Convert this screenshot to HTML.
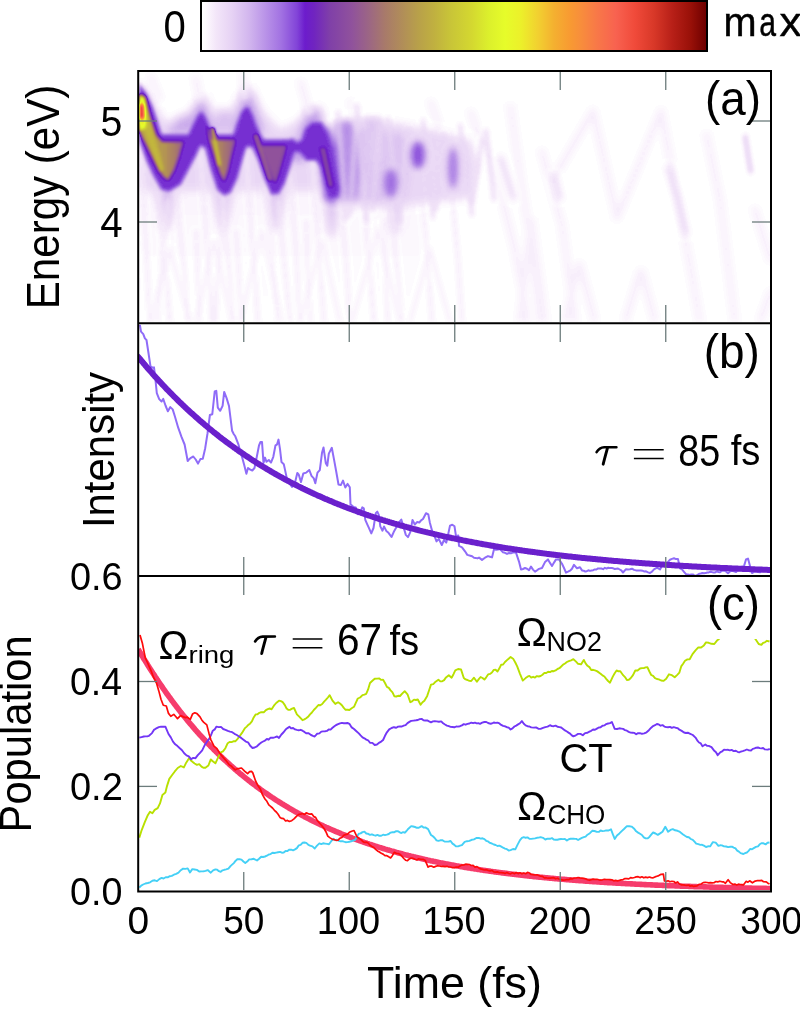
<!DOCTYPE html><html><head><meta charset="utf-8"><style>html,body{margin:0;padding:0;background:#fff;overflow:hidden}svg{display:block;will-change:transform} text{stroke:none} text.k{stroke:#000;stroke-width:0.45px}</style></head><body>
<svg width="800" height="1009" viewBox="0 0 800 1009" font-family="'Liberation Sans', sans-serif">
<defs>
<linearGradient id="cb" x1="202" y1="0" x2="706" y2="0" gradientUnits="userSpaceOnUse">
<stop offset="0.0000" stop-color="#ffffff"/>
<stop offset="0.0079" stop-color="#fdf9fe"/>
<stop offset="0.0278" stop-color="#f3e6f9"/>
<stop offset="0.0595" stop-color="#e6d2f4"/>
<stop offset="0.0933" stop-color="#d2b6ee"/>
<stop offset="0.1250" stop-color="#ba94e8"/>
<stop offset="0.1567" stop-color="#a272e2"/>
<stop offset="0.1885" stop-color="#8244d8"/>
<stop offset="0.2044" stop-color="#6c1ccc"/>
<stop offset="0.2222" stop-color="#7024c0"/>
<stop offset="0.2540" stop-color="#8040a8"/>
<stop offset="0.2976" stop-color="#90529c"/>
<stop offset="0.3313" stop-color="#9c6684"/>
<stop offset="0.3631" stop-color="#a87a6a"/>
<stop offset="0.3948" stop-color="#b08c5a"/>
<stop offset="0.4286" stop-color="#b8a04a"/>
<stop offset="0.4603" stop-color="#c0b040"/>
<stop offset="0.4921" stop-color="#c8c438"/>
<stop offset="0.5357" stop-color="#d4d830"/>
<stop offset="0.5694" stop-color="#dcf02c"/>
<stop offset="0.6012" stop-color="#e6fc2a"/>
<stop offset="0.6329" stop-color="#ecf02a"/>
<stop offset="0.6667" stop-color="#f2d030"/>
<stop offset="0.6984" stop-color="#f4b030"/>
<stop offset="0.7302" stop-color="#f89a32"/>
<stop offset="0.7480" stop-color="#f8903a"/>
<stop offset="0.7837" stop-color="#f87848"/>
<stop offset="0.8214" stop-color="#f86250"/>
<stop offset="0.8591" stop-color="#f04a3a"/>
<stop offset="0.8968" stop-color="#d83828"/>
<stop offset="0.9325" stop-color="#b82018"/>
<stop offset="0.9702" stop-color="#981008"/>
<stop offset="1.0000" stop-color="#6e0000"/>
</linearGradient>
<filter id="b1" x="-20%" y="-20%" width="140%" height="140%"><feGaussianBlur stdDeviation="1.2"/></filter>
<filter id="b2" x="-20%" y="-20%" width="140%" height="140%"><feGaussianBlur stdDeviation="2.2"/></filter>
<filter id="b4" x="-20%" y="-20%" width="140%" height="140%"><feGaussianBlur stdDeviation="4"/></filter>
<filter id="b15" x="-20%" y="-20%" width="140%" height="140%"><feGaussianBlur stdDeviation="1.6"/></filter>
<filter id="b3" x="-20%" y="-20%" width="140%" height="140%"><feGaussianBlur stdDeviation="3"/></filter>
<linearGradient id="lav" x1="0" y1="140" x2="0" y2="300" gradientUnits="userSpaceOnUse"><stop offset="0" stop-color="#c8a6f0"/><stop offset="0.35" stop-color="#e4d2f8"/><stop offset="1" stop-color="#fbf6fe"/></linearGradient>
<clipPath id="ca"><rect x="139" y="72" width="631" height="250"/></clipPath>
<clipPath id="cb2"><rect x="139" y="324" width="631" height="251"/></clipPath>
<clipPath id="cc"><rect x="139" y="577" width="631" height="313"/></clipPath>
<filter id="cmap" filterUnits="userSpaceOnUse" x="130" y="60" width="650" height="275" color-interpolation-filters="sRGB"><feGaussianBlur stdDeviation="1.0"/><feComponentTransfer><feFuncR type="table" tableValues="1.000 0.988 0.969 0.950 0.934 0.918 0.902 0.878 0.854 0.831 0.803 0.774 0.744 0.715 0.685 0.656 0.623 0.583 0.542 0.499 0.445 0.429 0.437 0.455 0.475 0.494 0.511 0.525 0.539 0.553 0.568 0.582 0.596 0.610 0.625 0.640 0.654 0.666 0.675 0.685 0.695 0.704 0.713 0.723 0.733 0.743 0.753 0.763 0.773 0.782 0.793 0.804 0.814 0.825 0.835 0.845 0.854 0.864 0.876 0.888 0.901 0.909 0.916 0.923 0.930 0.937 0.944 0.950 0.952 0.955 0.958 0.963 0.968 0.973 0.973 0.973 0.973 0.973 0.973 0.973 0.973 0.973 0.973 0.965 0.957 0.949 0.939 0.914 0.889 0.864 0.837 0.802 0.767 0.732 0.698 0.664 0.630 0.596 0.541 0.486 0.431"/><feFuncG type="table" tableValues="1.000 0.969 0.932 0.897 0.873 0.848 0.824 0.790 0.757 0.724 0.685 0.643 0.601 0.560 0.518 0.476 0.430 0.371 0.313 0.247 0.149 0.120 0.138 0.169 0.203 0.237 0.261 0.277 0.293 0.309 0.326 0.350 0.374 0.398 0.422 0.447 0.471 0.494 0.516 0.538 0.561 0.584 0.607 0.629 0.650 0.670 0.690 0.715 0.739 0.764 0.783 0.801 0.819 0.836 0.858 0.887 0.916 0.943 0.957 0.972 0.987 0.975 0.960 0.946 0.915 0.878 0.842 0.804 0.763 0.723 0.685 0.658 0.631 0.604 0.582 0.559 0.533 0.507 0.481 0.457 0.433 0.410 0.387 0.362 0.337 0.312 0.288 0.270 0.251 0.233 0.212 0.186 0.159 0.133 0.114 0.097 0.080 0.063 0.042 0.021 0.000"/><feFuncB type="table" tableValues="1.000 0.994 0.984 0.975 0.969 0.963 0.957 0.950 0.943 0.935 0.928 0.921 0.913 0.906 0.899 0.891 0.882 0.870 0.857 0.841 0.812 0.784 0.758 0.729 0.700 0.671 0.652 0.642 0.631 0.620 0.606 0.578 0.549 0.520 0.489 0.457 0.425 0.402 0.382 0.363 0.344 0.325 0.307 0.289 0.276 0.264 0.251 0.241 0.231 0.222 0.214 0.207 0.200 0.193 0.186 0.182 0.177 0.172 0.170 0.167 0.165 0.165 0.165 0.165 0.170 0.176 0.183 0.188 0.188 0.188 0.189 0.191 0.194 0.196 0.214 0.231 0.246 0.261 0.276 0.287 0.296 0.304 0.313 0.293 0.271 0.248 0.226 0.207 0.188 0.170 0.152 0.134 0.117 0.099 0.082 0.065 0.048 0.031 0.021 0.010 0.000"/><feFuncA type="identity"/></feComponentTransfer></filter><filter id="hb1" filterUnits="userSpaceOnUse" x="120" y="50" width="680" height="300" color-interpolation-filters="sRGB"><feGaussianBlur stdDeviation="1.2"/></filter><filter id="hb18" filterUnits="userSpaceOnUse" x="120" y="50" width="680" height="300" color-interpolation-filters="sRGB"><feGaussianBlur stdDeviation="1.8"/></filter><filter id="hb2" filterUnits="userSpaceOnUse" x="120" y="50" width="680" height="300" color-interpolation-filters="sRGB"><feGaussianBlur stdDeviation="2.2"/></filter><filter id="hb3" filterUnits="userSpaceOnUse" x="120" y="50" width="680" height="300" color-interpolation-filters="sRGB"><feGaussianBlur stdDeviation="3"/></filter><filter id="hb4" filterUnits="userSpaceOnUse" x="120" y="50" width="680" height="300" color-interpolation-filters="sRGB"><feGaussianBlur stdDeviation="4"/></filter><linearGradient id="wash" x1="0" y1="150" x2="0" y2="322" gradientUnits="userSpaceOnUse"><stop offset="0" stop-color="rgb(7,7,7)"/><stop offset="0.3" stop-color="rgb(3,3,3)"/><stop offset="1" stop-color="rgb(0,0,0)"/></linearGradient><linearGradient id="v1g" x1="145" y1="0" x2="188" y2="0" gradientUnits="userSpaceOnUse"><stop offset="0" stop-color="rgb(112,112,112)"/><stop offset="0.45" stop-color="rgb(105,105,105)"/><stop offset="1" stop-color="rgb(79,79,79)"/></linearGradient><linearGradient id="v2g" x1="212" y1="0" x2="236" y2="0" gradientUnits="userSpaceOnUse"><stop offset="0" stop-color="rgb(105,105,105)"/><stop offset="1" stop-color="rgb(79,79,79)"/></linearGradient>
</defs>
<rect x="201" y="1" width="506" height="50" fill="url(#cb)" stroke="#000" stroke-width="2"/>
<g clip-path="url(#ca)"><g filter="url(#cmap)">
<rect x="120" y="50" width="680" height="300" fill="#000"/>
<g filter="url(#hb4)">
<polygon fill="url(#wash)" points="139.0,150.0 160.0,190.0 200.0,160.0 225.0,190.0 250.0,160.0 278.0,190.0 310.0,160.0 335.0,195.0 360.0,190.0 400.0,195.0 420.0,200.0 430.0,322.0 139.0,322.0"/>
<polygon fill="rgb(13,13,13)" points="139.0,78.0 152.0,95.0 162.0,118.0 175.0,125.0 190.0,112.0 198.0,95.0 206.0,95.0 214.0,115.0 226.0,122.0 236.0,102.0 244.0,82.0 252.0,88.0 262.0,110.0 280.0,130.0 300.0,120.0 312.0,112.0 322.0,120.0 338.0,140.0 360.0,130.0 400.0,135.0 440.0,145.0 470.0,160.0 470.0,190.0 139.0,190.0"/>
<polygon fill="rgb(31,31,31)" points="188.0,134.0 197.0,102.0 205.0,102.0 214.0,134.0"/>
<polygon fill="rgb(31,31,31)" points="233.0,134.0 242.0,94.0 252.0,94.0 264.0,134.0"/>
<polygon fill="rgb(31,31,31)" points="298.0,138.0 306.0,108.0 320.0,108.0 328.0,140.0"/>
<polygon fill="rgb(31,31,31)" points="288.0,140.0 308.0,140.0 306.0,162.0 292.0,162.0"/>
<polygon fill="rgb(26,26,26)" points="166.0,134.0 176.0,118.0 194.0,112.0 196.0,134.0"/>
<polygon fill="rgb(20,20,20)" points="212.0,132.0 216.0,110.0 232.0,110.0 236.0,132.0"/>
<polygon fill="rgb(20,20,20)" points="154.0,186.0 178.0,186.0 168.0,230.0 164.0,230.0"/>
<polygon fill="rgb(20,20,20)" points="213.0,186.0 233.0,186.0 225.0,230.0 221.0,230.0"/>
<polygon fill="rgb(20,20,20)" points="266.0,186.0 286.0,186.0 278.0,230.0 274.0,230.0"/>
<polygon fill="rgb(20,20,20)" points="323.0,192.0 341.0,192.0 334.0,236.0 330.0,236.0"/>
<polygon fill="rgb(20,20,20)" points="387.0,190.0 403.0,190.0 397.0,234.0 393.0,234.0"/>
</g>
<g stroke="rgb(7,7,7)" stroke-width="3.5" fill="none" filter="url(#hb2)">
<polyline points="141.0,150.0 145.0,230.0 150.0,322.0"/>
<polyline points="158.0,190.0 164.0,250.0 170.0,322.0"/>
<polyline points="176.0,190.0 183.0,260.0 188.0,322.0"/>
<polyline points="200.0,150.0 206.0,230.0 212.0,322.0"/>
<polyline points="222.0,190.0 228.0,260.0 233.0,322.0"/>
<polyline points="246.0,150.0 252.0,240.0 258.0,322.0"/>
<polyline points="266.0,185.0 272.0,260.0 278.0,322.0"/>
<polyline points="290.0,175.0 296.0,250.0 300.0,322.0"/>
<polyline points="312.0,150.0 318.0,240.0 324.0,322.0"/>
<polyline points="340.0,195.0 346.0,260.0 350.0,322.0"/>
<polyline points="362.0,175.0 368.0,250.0 374.0,322.0"/>
<polyline points="390.0,195.0 396.0,260.0 402.0,322.0"/>
<polyline points="420.0,175.0 426.0,240.0 432.0,322.0"/>
<polyline points="452.0,195.0 458.0,260.0 462.0,322.0"/>
<polyline points="168.0,200.0 162.0,260.0 157.0,322.0"/>
<polyline points="224.0,200.0 219.0,260.0 215.0,322.0"/>
<polyline points="278.0,200.0 285.0,270.0 290.0,322.0"/>
<polyline points="196.0,230.0 200.0,322.0"/>
<polyline points="236.0,230.0 242.0,322.0"/>
<polyline points="306.0,220.0 310.0,322.0"/>
<polyline points="384.0,220.0 388.0,322.0"/>
</g>
<g stroke="rgb(5,5,5)" stroke-width="3.5" fill="none" filter="url(#hb2)">
<polyline points="150.0,322.0 170.0,250.0 190.0,322.0"/>
<polyline points="196.0,322.0 214.0,240.0 232.0,322.0"/>
<polyline points="240.0,322.0 262.0,230.0 282.0,322.0"/>
<polyline points="300.0,322.0 322.0,240.0 340.0,322.0"/>
<polyline points="352.0,322.0 378.0,230.0 400.0,322.0"/>
<polyline points="410.0,322.0 430.0,250.0 450.0,322.0"/>
</g>
<g stroke="rgb(5,5,5)" stroke-width="7" fill="none" stroke-linejoin="round" filter="url(#hb3)">
<polyline points="480.0,130.0 500.0,190.0 515.0,250.0 528.0,322.0"/>
<polyline points="510.0,104.0 521.0,183.0 532.0,250.0 540.0,322.0"/>
<polyline points="541.0,149.0 562.0,225.0 575.0,322.0"/>
<polyline points="551.0,183.0 593.0,111.0 617.0,218.0 661.0,111.0 692.0,276.0 700.0,322.0"/>
<polyline points="531.0,218.0 520.0,322.0"/>
<polyline points="531.0,218.0 545.0,322.0"/>
<polyline points="579.0,262.0 565.0,322.0"/>
<polyline points="579.0,262.0 595.0,322.0"/>
<polyline points="641.0,269.0 625.0,322.0"/>
<polyline points="641.0,269.0 655.0,322.0"/>
<polyline points="706.0,132.0 720.0,200.0 735.0,322.0"/>
<polyline points="754.0,207.0 771.0,262.0"/>
<polyline points="760.0,322.0 771.0,290.0"/>
<polyline points="150.0,75.0 160.0,100.0"/>
<polyline points="195.0,75.0 200.0,100.0"/>
<polyline points="243.0,72.0 245.0,100.0"/>
<polyline points="300.0,80.0 310.0,115.0"/>
<polyline points="350.0,100.0 360.0,130.0"/>
<polyline points="430.0,100.0 440.0,130.0"/>
<polyline points="470.0,110.0 480.0,140.0"/>
</g>
<g stroke="rgb(13,13,13)" stroke-width="5" fill="none" filter="url(#hb3)">
<polyline points="668.0,166.0 678.0,200.0 686.0,235.0"/>
<polyline points="500.0,156.0 507.0,178.0 514.0,200.0"/>
<polyline points="554.0,175.0 560.0,200.0"/>
</g>
<g stroke="rgb(23,23,23)" stroke-width="3" fill="none" filter="url(#hb2)">
<polyline points="745.0,135.0 748.0,155.0 751.0,173.0"/>
</g>
<g filter="url(#hb4)">
<polygon fill="rgb(13,13,13)" points="336.0,122.0 360.0,118.0 400.0,124.0 440.0,132.0 470.0,140.0 478.0,165.0 470.0,198.0 430.0,202.0 400.0,206.0 360.0,206.0 340.0,204.0"/>
<polygon fill="rgb(20,20,20)" points="338.0,128.0 370.0,126.0 405.0,135.0 410.0,170.0 405.0,200.0 370.0,204.0 345.0,202.0"/>
</g>
<g filter="url(#hb3)">
<polygon fill="rgb(33,33,33)" points="334.0,122.0 350.0,120.0 360.0,134.0 362.0,175.0 356.0,200.0 340.0,202.0"/>
<polygon fill="rgb(46,46,46)" points="316.0,128.0 328.0,126.0 338.0,150.0 342.0,190.0 334.0,204.0 324.0,200.0"/>
<polygon fill="rgb(18,18,18)" points="364.0,118.0 382.0,118.0 384.0,162.0 366.0,162.0"/>
</g>
<g stroke="rgb(14,14,14)" stroke-width="3" fill="none" stroke-linecap="round" filter="url(#hb2)">
<polyline points="338.0,112.0 342.0,166.0 346.0,220.0"/>
<polyline points="356.0,120.0 353.0,167.5 350.0,215.0"/>
<polyline points="357.0,105.0 362.0,163.5 367.0,222.0"/>
<polyline points="380.0,125.0 376.0,167.5 372.0,210.0"/>
<polyline points="388.0,118.0 394.0,170.0 400.0,222.0"/>
<polyline points="409.0,130.0 404.0,167.5 399.0,205.0"/>
<polyline points="423.0,120.0 428.0,169.0 433.0,218.0"/>
<polyline points="444.0,135.0 440.0,172.5 436.0,210.0"/>
<polyline points="460.0,125.0 466.0,170.0 472.0,215.0"/>
<polyline points="482.0,140.0 477.0,172.5 472.0,205.0"/>
<polyline points="486.0,130.0 490.0,165.0 494.0,200.0"/>
</g>
<g filter="url(#hb3)">
<ellipse fill="rgb(41,41,41)" cx="391" cy="183" rx="7" ry="14"/>
<ellipse fill="rgb(46,46,46)" cx="418" cy="155" rx="7.5" ry="14"/>
<ellipse fill="rgb(38,38,38)" cx="453" cy="168" rx="5.5" ry="21"/>
</g>
<g filter="url(#hb18)">
<polygon fill="rgb(50,50,50)" points="139.0,83.0 147.0,93.0 153.0,106.0 158.0,121.0 162.0,134.0 188.0,134.0 192.0,126.0 197.0,116.0 200.0,112.0 203.0,112.0 207.0,119.0 210.0,127.0 214.0,134.0 233.0,134.0 237.0,122.0 241.0,112.0 245.0,107.0 249.0,107.0 253.0,115.0 257.0,126.0 261.0,134.0 264.0,139.0 289.0,139.0 293.0,138.0 297.0,142.0 301.0,140.0 305.0,128.0 312.0,122.0 322.0,122.0 328.0,135.0 332.0,150.0 336.0,170.0 339.0,188.0 338.0,197.0 330.0,198.0 325.0,186.0 320.0,167.0 316.0,161.0 306.0,161.0 300.0,153.0 295.0,152.0 291.0,166.0 285.0,184.0 279.0,194.0 271.0,195.0 264.0,179.0 257.0,159.0 252.0,148.0 247.0,147.0 243.0,160.0 238.0,178.0 231.0,193.0 224.0,196.0 217.0,190.0 210.0,169.0 205.0,149.0 201.0,146.0 197.0,155.0 189.0,170.0 181.0,185.0 169.0,192.0 161.0,190.0 153.0,176.0 146.0,161.0 141.0,147.0 139.0,141.0"/>
</g>
<g filter="url(#hb1)">
<polygon fill="url(#v1g)" points="139.0,98.0 145.0,102.0 150.0,118.0 156.0,135.0 162.0,142.0 183.0,142.0 179.0,156.0 174.0,170.0 168.0,180.0 163.0,176.0 156.0,164.0 149.0,150.0 142.0,136.0 139.0,130.0"/>
<polygon fill="url(#v2g)" points="207.0,125.0 212.0,140.0 235.0,140.0 231.0,156.0 228.0,170.0 224.0,181.0 220.0,173.0 215.0,157.0 210.0,141.0"/>
<polygon fill="rgb(76,76,76)" points="253.0,133.0 260.0,146.0 286.0,146.0 282.0,161.0 278.0,175.0 275.0,183.0 270.0,172.0 263.0,154.0"/>
<polygon fill="rgb(69,69,69)" points="320.0,148.0 325.0,148.0 333.0,186.0 329.0,187.0"/>
</g>
<g filter="url(#hb1)">
<polygon fill="rgb(120,120,120)" points="139.0,94.0 145.0,97.0 149.0,115.0 154.0,134.0 160.0,154.0 164.0,170.0 160.0,172.0 153.0,155.0 146.0,136.0 141.0,120.0 139.0,114.0"/>
<polygon fill="rgb(153,153,153)" points="139.0,95.0 145.0,98.0 146.0,128.0 139.0,131.0"/>
<polygon fill="rgb(163,163,163)" points="139.0,100.0 145.0,102.0 146.0,124.0 139.0,126.0"/>
<polygon fill="rgb(230,230,230)" points="139.0,104.0 143.5,105.0 144.0,118.0 139.0,119.0"/>
<polygon fill="rgb(128,128,128)" points="211.0,128.0 214.0,128.0 221.0,165.0 218.0,166.0"/>
<polygon fill="rgb(92,92,92)" points="254.0,135.0 257.0,135.0 272.0,180.0 269.0,180.0"/>
</g>
</g></g>
<g clip-path="url(#cb2)">
<polyline points="139.9,324.8 141.0,331.6 143.3,334.1 144.9,338.4 146.5,340.0 148.1,350.5 150.5,366.3 152.9,367.8 154.0,367.3 155.2,377.1 156.8,393.1 159.2,399.1 161.6,401.5 163.2,398.9 165.5,405.5 167.9,411.3 170.3,407.1 172.7,409.4 175.0,416.8 178.2,427.7 179.8,432.2 181.4,436.7 184.6,444.5 187.7,461.0 189.3,459.2 190.9,457.8 193.3,456.5 195.7,459.5 198.0,463.6 200.4,459.1 202.8,458.8 205.2,448.2 207.5,433.5 209.9,415.0 212.3,414.2 214.7,391.5 216.3,390.9 217.8,407.6 220.2,410.8 222.6,405.9 224.2,391.9 226.6,398.1 229.0,406.0 232.1,430.8 233.7,434.0 235.3,436.3 238.5,444.7 240.4,451.9 242.4,458.2 244.4,465.8 246.4,473.8 248.0,468.0 250.3,469.6 252.3,470.5 254.5,468.0 256.8,456.8 259.0,445.5 260.5,441.9 262.0,441.9 263.5,463.1 265.0,457.6 266.5,461.8 268.8,460.0 271.0,462.6 273.3,456.8 275.5,445.3 277.0,444.5 278.5,439.6 280.0,449.2 281.5,462.1 283.8,464.2 285.3,471.1 286.8,478.3 289.0,482.5 292.0,487.0 295.0,482.7 297.3,472.9 298.8,474.7 301.0,482.1 303.3,473.5 306.3,472.6 309.3,470.0 311.5,475.9 313.8,478.4 315.3,483.3 317.5,472.6 319.8,470.1 322.0,452.8 323.5,447.4 325.8,463.2 327.3,465.7 328.8,453.6 331.8,447.8 334.0,459.4 336.3,472.0 338.5,484.5 340.8,485.1 343.0,480.6 345.3,487.5 347.5,483.9 349.8,487.3 350.5,504.3 353.5,507.1 355.8,507.5 358.0,514.2 360.0,512.9 362.3,507.4 363.8,508.3 365.3,519.8 367.5,524.8 369.0,528.2 371.3,533.4 373.5,528.0 375.8,513.1 377.3,511.6 378.8,514.8 380.3,526.4 382.5,530.7 384.0,526.5 386.3,530.9 388.5,532.8 391.5,537.0 393.8,531.8 396.8,526.5 399.0,522.3 401.3,519.6 403.5,526.9 405.8,534.9 408.0,537.1 410.3,532.1 412.5,519.9 414.8,524.5 417.0,522.1 419.3,522.5 421.1,520.3 423.0,519.0 426.0,513.2 428.3,514.4 429.8,522.4 432.0,530.5 434.3,535.5 436.5,541.4 438.8,538.9 441.8,545.0 444.0,540.0 446.3,542.6 448.5,532.7 450.0,525.6 452.3,524.7 454.5,526.3 456.0,536.1 458.3,535.5 459.0,545.9 462.0,547.3 465.0,551.3 467.3,554.9 470.3,555.7 472.1,556.3 474.0,557.7 475.7,557.9 477.3,558.4 479.0,557.6 482.0,559.9 485.0,557.7 488.0,556.1 490.0,556.7 492.0,557.4 494.0,549.3 496.0,549.7 498.0,549.4 500.0,549.0 503.0,552.3 505.0,552.8 507.0,553.9 509.0,553.0 511.0,553.3 512.7,552.6 514.3,552.4 516.0,552.6 519.0,561.6 521.0,569.6 523.0,569.0 525.0,568.0 527.0,568.7 529.0,570.2 531.0,566.6 533.0,569.6 535.0,571.6 537.0,570.3 539.0,568.9 542.0,568.0 545.0,562.1 548.0,559.4 550.0,562.9 552.0,566.0 554.0,562.6 556.0,559.4 559.0,559.4 562.0,563.8 564.0,568.0 566.0,572.6 568.0,571.7 570.0,570.7 572.0,568.7 574.0,564.8 577.0,568.3 580.0,567.3 582.0,570.4 583.6,570.7 585.2,571.5 586.8,571.2 588.4,570.3 590.0,570.9 591.6,570.5 593.2,570.2 594.8,569.4 596.4,569.5 598.0,568.4 599.7,568.6 601.4,568.5 603.1,569.2 604.9,567.8 606.6,568.6 608.3,567.7 610.0,568.1 611.6,568.0 613.2,568.3 614.8,569.0 616.4,568.7 618.0,568.5 619.7,569.5 621.3,570.4 623.0,572.5 626.0,569.2 628.0,569.6 630.0,569.3 632.0,568.7 634.0,569.9 636.0,570.4 637.6,570.5 639.2,570.4 640.8,570.4 642.4,570.7 644.0,571.4 646.0,571.3 648.0,572.4 650.0,573.0 652.0,571.6 654.0,569.4 657.0,567.6 660.0,569.5 663.0,563.7 666.0,563.6 668.0,562.0 670.0,559.7 672.0,558.9 674.0,558.3 676.0,559.1 678.0,559.1 680.0,568.4 682.0,569.4 684.0,571.8 686.0,574.2 688.0,574.5 689.6,574.9 691.2,574.4 692.8,574.4 694.4,575.6 696.0,575.7 697.6,574.8 699.2,573.7 700.8,573.5 702.4,573.0 704.0,573.2 705.6,573.1 707.2,572.5 708.8,572.4 710.4,571.7 712.0,572.1 713.6,572.6 715.2,572.4 716.8,571.4 718.4,572.0 720.0,572.3 722.0,570.7 724.0,570.6 726.0,571.4 728.0,573.3 730.0,571.4 732.0,570.7 734.0,571.4 736.0,572.1 738.0,570.0 740.0,568.9 742.0,566.8 744.0,566.1 746.0,559.5 748.0,558.6 750.0,566.0 752.0,573.0 754.0,571.9 756.0,571.3 758.0,572.1 760.0,572.3 762.0,571.0 764.0,570.6 765.8,570.4 767.7,571.7 769.5,572.0" fill="none" stroke="#8f6cf8" stroke-width="2" stroke-linejoin="round"/>
<polyline points="138.2,356.9 139.3,358.2 140.4,359.5 141.4,360.8 142.5,362.0 143.5,363.3 144.6,364.5 145.6,365.8 146.7,367.0 147.7,368.2 148.8,369.4 149.9,370.6 150.9,371.8 152.0,373.0 153.0,374.2 154.1,375.4 155.1,376.6 156.2,377.7 157.2,378.9 158.3,380.1 159.3,381.2 160.4,382.3 161.5,383.5 162.5,384.6 163.6,385.7 164.6,386.8 165.7,388.0 166.7,389.1 167.8,390.2 168.8,391.2 169.9,392.3 171.0,393.4 172.0,394.5 173.1,395.5 174.1,396.6 175.2,397.6 176.2,398.7 177.3,399.7 178.3,400.8 179.4,401.8 180.4,402.8 181.5,403.8 182.6,404.8 183.6,405.8 184.7,406.8 185.7,407.8 186.8,408.8 187.8,409.8 188.9,410.8 189.9,411.7 191.0,412.7 192.1,413.6 193.1,414.6 194.2,415.5 195.2,416.5 196.3,417.4 197.3,418.3 198.4,419.3 199.4,420.2 200.5,421.1 201.6,422.0 202.6,422.9 203.7,423.8 204.7,424.7 205.8,425.6 206.8,426.5 207.9,427.3 208.9,428.2 210.0,429.1 211.0,429.9 212.1,430.8 213.2,431.7 214.2,432.5 215.3,433.3 216.3,434.2 217.4,435.0 218.4,435.8 219.5,436.7 220.5,437.5 221.6,438.3 222.6,439.1 223.7,439.9 224.8,440.7 225.8,441.5 226.9,442.3 227.9,443.1 229.0,443.8 230.0,444.6 231.1,445.4 232.1,446.1 233.2,446.9 234.3,447.7 235.3,448.4 236.4,449.2 237.4,449.9 238.5,450.7 239.5,451.4 240.6,452.1 241.6,452.8 242.7,453.6 243.8,454.3 244.8,455.0 245.9,455.7 246.9,456.4 248.0,457.1 249.0,457.8 250.1,458.5 251.1,459.2 252.2,459.9 253.2,460.6 254.3,461.2 255.4,461.9 256.4,462.6 257.5,463.2 258.5,463.9 259.6,464.6 260.6,465.2 261.7,465.9 262.7,466.5 263.8,467.2 264.9,467.8 265.9,468.4 267.0,469.1 268.0,469.7 269.1,470.3 270.1,470.9 271.2,471.6 272.2,472.2 273.3,472.8 274.3,473.4 275.4,474.0 276.5,474.6 277.5,475.2 278.6,475.8 279.6,476.4 280.7,476.9 281.7,477.5 282.8,478.1 283.8,478.7 284.9,479.3 285.9,479.8 287.0,480.4 288.1,480.9 289.1,481.5 290.2,482.1 291.2,482.6 292.3,483.2 293.3,483.7 294.4,484.2 295.4,484.8 296.5,485.3 297.6,485.9 298.6,486.4 299.7,486.9 300.7,487.4 301.8,488.0 302.8,488.5 303.9,489.0 304.9,489.5 306.0,490.0 307.0,490.5 308.1,491.0 309.2,491.5 310.2,492.0 311.3,492.5 312.3,493.0 313.4,493.5 314.4,494.0 315.5,494.4 316.5,494.9 317.6,495.4 318.7,495.9 319.7,496.3 320.8,496.8 321.8,497.3 322.9,497.7 323.9,498.2 325.0,498.7 326.0,499.1 327.1,499.6 328.1,500.0 329.2,500.5 330.3,500.9 331.3,501.3 332.4,501.8 333.4,502.2 334.5,502.7 335.5,503.1 336.6,503.5 337.6,503.9 338.7,504.4 339.8,504.8 340.8,505.2 341.9,505.6 342.9,506.0 344.0,506.5 345.0,506.9 346.1,507.3 347.1,507.7 348.2,508.1 349.2,508.5 350.3,508.9 351.4,509.3 352.4,509.7 353.5,510.0 354.5,510.4 355.6,510.8 356.6,511.2 357.7,511.6 358.7,512.0 359.8,512.3 360.9,512.7 361.9,513.1 363.0,513.5 364.0,513.8 365.1,514.2 366.1,514.6 367.2,514.9 368.2,515.3 369.3,515.6 370.4,516.0 371.4,516.3 372.5,516.7 373.5,517.1 374.6,517.4 375.6,517.7 376.7,518.1 377.7,518.4 378.8,518.8 379.8,519.1 380.9,519.4 382.0,519.8 383.0,520.1 384.1,520.4 385.1,520.8 386.2,521.1 387.2,521.4 388.3,521.7 389.3,522.1 390.4,522.4 391.4,522.7 392.5,523.0 393.6,523.3 394.6,523.6 395.7,523.9 396.7,524.2 397.8,524.5 398.8,524.8 399.9,525.2 400.9,525.5 402.0,525.7 403.1,526.0 404.1,526.3 405.2,526.6 406.2,526.9 407.3,527.2 408.3,527.5 409.4,527.8 410.4,528.1 411.5,528.4 412.6,528.6 413.6,528.9 414.7,529.2 415.7,529.5 416.8,529.7 417.8,530.0 418.9,530.3 419.9,530.6 421.0,530.8 422.0,531.1 423.1,531.4 424.2,531.6 425.2,531.9 426.3,532.1 427.3,532.4 428.4,532.7 429.4,532.9 430.5,533.2 431.5,533.4 432.6,533.7 433.6,533.9 434.7,534.2 435.8,534.4 436.8,534.7 437.9,534.9 438.9,535.2 440.0,535.4 441.0,535.6 442.1,535.9 443.1,536.1 444.2,536.4 445.3,536.6 446.3,536.8 447.4,537.1 448.4,537.3 449.5,537.5 450.5,537.7 451.6,538.0 452.6,538.2 453.7,538.4 454.8,538.6 455.8,538.9 456.9,539.1 457.9,539.3 459.0,539.5 460.0,539.7 461.1,539.9 462.1,540.2 463.2,540.4 464.2,540.6 465.3,540.8 466.4,541.0 467.4,541.2 468.5,541.4 469.5,541.6 470.6,541.8 471.6,542.0 472.7,542.2 473.7,542.4 474.8,542.6 475.8,542.8 476.9,543.0 478.0,543.2 479.0,543.4 480.1,543.6 481.1,543.8 482.2,544.0 483.2,544.2 484.3,544.4 485.3,544.6 486.4,544.7 487.5,544.9 488.5,545.1 489.6,545.3 490.6,545.5 491.7,545.7 492.7,545.8 493.8,546.0 494.8,546.2 495.9,546.4 496.9,546.5 498.0,546.7 499.1,546.9 500.1,547.1 501.2,547.2 502.2,547.4 503.3,547.6 504.3,547.8 505.4,547.9 506.4,548.1 507.5,548.3 508.6,548.4 509.6,548.6 510.7,548.7 511.7,548.9 512.8,549.1 513.8,549.2 514.9,549.4 515.9,549.5 517.0,549.7 518.0,549.9 519.1,550.0 520.2,550.2 521.2,550.3 522.3,550.5 523.3,550.6 524.4,550.8 525.4,550.9 526.5,551.1 527.5,551.2 528.6,551.4 529.7,551.5 530.7,551.7 531.8,551.8 532.8,552.0 533.9,552.1 534.9,552.2 536.0,552.4 537.0,552.5 538.1,552.7 539.1,552.8 540.2,552.9 541.3,553.1 542.3,553.2 543.4,553.4 544.4,553.5 545.5,553.6 546.5,553.8 547.6,553.9 548.6,554.0 549.7,554.2 550.8,554.3 551.8,554.4 552.9,554.5 553.9,554.7 555.0,554.8 556.0,554.9 557.1,555.1 558.1,555.2 559.2,555.3 560.2,555.4 561.3,555.5 562.4,555.7 563.4,555.8 564.5,555.9 565.5,556.0 566.6,556.2 567.6,556.3 568.7,556.4 569.7,556.5 570.8,556.6 571.9,556.7 572.9,556.9 574.0,557.0 575.0,557.1 576.1,557.2 577.1,557.3 578.2,557.4 579.2,557.5 580.3,557.6 581.3,557.8 582.4,557.9 583.5,558.0 584.5,558.1 585.6,558.2 586.6,558.3 587.7,558.4 588.7,558.5 589.8,558.6 590.8,558.7 591.9,558.8 593.0,558.9 594.0,559.0 595.1,559.1 596.1,559.2 597.2,559.3 598.2,559.4 599.3,559.5 600.3,559.6 601.4,559.7 602.5,559.8 603.5,559.9 604.6,560.0 605.6,560.1 606.7,560.2 607.7,560.3 608.8,560.4 609.8,560.5 610.9,560.6 611.9,560.7 613.0,560.8 614.1,560.9 615.1,561.0 616.2,561.1 617.2,561.1 618.3,561.2 619.3,561.3 620.4,561.4 621.4,561.5 622.5,561.6 623.5,561.7 624.6,561.8 625.7,561.8 626.7,561.9 627.8,562.0 628.8,562.1 629.9,562.2 630.9,562.3 632.0,562.4 633.0,562.4 634.1,562.5 635.2,562.6 636.2,562.7 637.3,562.8 638.3,562.8 639.4,562.9 640.4,563.0 641.5,563.1 642.5,563.2 643.6,563.2 644.6,563.3 645.7,563.4 646.8,563.5 647.8,563.5 648.9,563.6 649.9,563.7 651.0,563.8 652.0,563.8 653.1,563.9 654.1,564.0 655.2,564.1 656.3,564.1 657.3,564.2 658.4,564.3 659.4,564.3 660.5,564.4 661.5,564.5 662.6,564.6 663.6,564.6 664.7,564.7 665.8,564.8 666.8,564.8 667.9,564.9 668.9,565.0 670.0,565.0 671.0,565.1 672.1,565.2 673.1,565.2 674.2,565.3 675.2,565.4 676.3,565.4 677.4,565.5 678.4,565.6 679.5,565.6 680.5,565.7 681.6,565.8 682.6,565.8 683.7,565.9 684.7,565.9 685.8,566.0 686.9,566.1 687.9,566.1 689.0,566.2 690.0,566.2 691.1,566.3 692.1,566.4 693.2,566.4 694.2,566.5 695.3,566.5 696.3,566.6 697.4,566.7 698.5,566.7 699.5,566.8 700.6,566.8 701.6,566.9 702.7,566.9 703.7,567.0 704.8,567.1 705.8,567.1 706.9,567.2 707.9,567.2 709.0,567.3 710.1,567.3 711.1,567.4 712.2,567.4 713.2,567.5 714.3,567.5 715.3,567.6 716.4,567.6 717.4,567.7 718.5,567.7 719.6,567.8 720.6,567.9 721.7,567.9 722.7,568.0 723.8,568.0 724.8,568.1 725.9,568.1 726.9,568.1 728.0,568.2 729.0,568.2 730.1,568.3 731.2,568.3 732.2,568.4 733.3,568.4 734.3,568.5 735.4,568.5 736.4,568.6 737.5,568.6 738.5,568.7 739.6,568.7 740.7,568.8 741.7,568.8 742.8,568.9 743.8,568.9 744.9,568.9 745.9,569.0 747.0,569.0 748.0,569.1 749.1,569.1 750.1,569.2 751.2,569.2 752.3,569.2 753.3,569.3 754.4,569.3 755.4,569.4 756.5,569.4 757.5,569.5 758.6,569.5 759.6,569.5 760.7,569.6 761.8,569.6 762.8,569.7 763.9,569.7 764.9,569.7 766.0,569.8 767.0,569.8 768.1,569.9 769.1,569.9 770.2,569.9 771.2,570.0" fill="none" stroke="#6a20cc" stroke-width="6" stroke-linecap="round"/>
</g>
<g clip-path="url(#cc)">
<polyline points="138.2,649.3 139.3,651.1 140.4,652.9 141.4,654.7 142.5,656.4 143.5,658.2 144.6,659.9 145.6,661.6 146.7,663.3 147.7,665.0 148.8,666.7 149.9,668.4 150.9,670.0 152.0,671.7 153.0,673.3 154.1,674.9 155.1,676.5 156.2,678.1 157.2,679.7 158.3,681.3 159.3,682.9 160.4,684.4 161.5,685.9 162.5,687.5 163.6,689.0 164.6,690.5 165.7,692.0 166.7,693.5 167.8,694.9 168.8,696.4 169.9,697.8 171.0,699.3 172.0,700.7 173.1,702.1 174.1,703.5 175.2,704.9 176.2,706.3 177.3,707.7 178.3,709.1 179.4,710.4 180.4,711.8 181.5,713.1 182.6,714.4 183.6,715.7 184.7,717.0 185.7,718.3 186.8,719.6 187.8,720.9 188.9,722.2 189.9,723.4 191.0,724.7 192.1,725.9 193.1,727.1 194.2,728.4 195.2,729.6 196.3,730.8 197.3,732.0 198.4,733.1 199.4,734.3 200.5,735.5 201.6,736.6 202.6,737.8 203.7,738.9 204.7,740.1 205.8,741.2 206.8,742.3 207.9,743.4 208.9,744.5 210.0,745.6 211.0,746.7 212.1,747.8 213.2,748.8 214.2,749.9 215.3,750.9 216.3,752.0 217.4,753.0 218.4,754.1 219.5,755.1 220.5,756.1 221.6,757.1 222.6,758.1 223.7,759.1 224.8,760.1 225.8,761.0 226.9,762.0 227.9,763.0 229.0,763.9 230.0,764.9 231.1,765.8 232.1,766.7 233.2,767.7 234.3,768.6 235.3,769.5 236.4,770.4 237.4,771.3 238.5,772.2 239.5,773.1 240.6,774.0 241.6,774.8 242.7,775.7 243.8,776.6 244.8,777.4 245.9,778.3 246.9,779.1 248.0,779.9 249.0,780.8 250.1,781.6 251.1,782.4 252.2,783.2 253.2,784.0 254.3,784.8 255.4,785.6 256.4,786.4 257.5,787.2 258.5,787.9 259.6,788.7 260.6,789.5 261.7,790.2 262.7,791.0 263.8,791.7 264.9,792.5 265.9,793.2 267.0,793.9 268.0,794.7 269.1,795.4 270.1,796.1 271.2,796.8 272.2,797.5 273.3,798.2 274.3,798.9 275.4,799.6 276.5,800.3 277.5,800.9 278.6,801.6 279.6,802.3 280.7,802.9 281.7,803.6 282.8,804.2 283.8,804.9 284.9,805.5 285.9,806.2 287.0,806.8 288.1,807.4 289.1,808.1 290.2,808.7 291.2,809.3 292.3,809.9 293.3,810.5 294.4,811.1 295.4,811.7 296.5,812.3 297.6,812.9 298.6,813.5 299.7,814.0 300.7,814.6 301.8,815.2 302.8,815.8 303.9,816.3 304.9,816.9 306.0,817.4 307.0,818.0 308.1,818.5 309.2,819.1 310.2,819.6 311.3,820.1 312.3,820.7 313.4,821.2 314.4,821.7 315.5,822.2 316.5,822.7 317.6,823.2 318.7,823.8 319.7,824.3 320.8,824.8 321.8,825.2 322.9,825.7 323.9,826.2 325.0,826.7 326.0,827.2 327.1,827.7 328.1,828.1 329.2,828.6 330.3,829.1 331.3,829.5 332.4,830.0 333.4,830.5 334.5,830.9 335.5,831.4 336.6,831.8 337.6,832.2 338.7,832.7 339.8,833.1 340.8,833.6 341.9,834.0 342.9,834.4 344.0,834.8 345.0,835.2 346.1,835.7 347.1,836.1 348.2,836.5 349.2,836.9 350.3,837.3 351.4,837.7 352.4,838.1 353.5,838.5 354.5,838.9 355.6,839.3 356.6,839.7 357.7,840.1 358.7,840.4 359.8,840.8 360.9,841.2 361.9,841.6 363.0,841.9 364.0,842.3 365.1,842.7 366.1,843.0 367.2,843.4 368.2,843.7 369.3,844.1 370.4,844.4 371.4,844.8 372.5,845.1 373.5,845.5 374.6,845.8 375.6,846.2 376.7,846.5 377.7,846.8 378.8,847.2 379.8,847.5 380.9,847.8 382.0,848.1 383.0,848.5 384.1,848.8 385.1,849.1 386.2,849.4 387.2,849.7 388.3,850.0 389.3,850.3 390.4,850.6 391.4,850.9 392.5,851.2 393.6,851.5 394.6,851.8 395.7,852.1 396.7,852.4 397.8,852.7 398.8,853.0 399.9,853.3 400.9,853.6 402.0,853.8 403.1,854.1 404.1,854.4 405.2,854.7 406.2,854.9 407.3,855.2 408.3,855.5 409.4,855.7 410.4,856.0 411.5,856.3 412.6,856.5 413.6,856.8 414.7,857.0 415.7,857.3 416.8,857.6 417.8,857.8 418.9,858.1 419.9,858.3 421.0,858.5 422.0,858.8 423.1,859.0 424.2,859.3 425.2,859.5 426.3,859.7 427.3,860.0 428.4,860.2 429.4,860.4 430.5,860.7 431.5,860.9 432.6,861.1 433.6,861.4 434.7,861.6 435.8,861.8 436.8,862.0 437.9,862.2 438.9,862.5 440.0,862.7 441.0,862.9 442.1,863.1 443.1,863.3 444.2,863.5 445.3,863.7 446.3,863.9 447.4,864.1 448.4,864.3 449.5,864.5 450.5,864.7 451.6,864.9 452.6,865.1 453.7,865.3 454.8,865.5 455.8,865.7 456.9,865.9 457.9,866.1 459.0,866.3 460.0,866.5 461.1,866.6 462.1,866.8 463.2,867.0 464.2,867.2 465.3,867.4 466.4,867.5 467.4,867.7 468.5,867.9 469.5,868.1 470.6,868.2 471.6,868.4 472.7,868.6 473.7,868.7 474.8,868.9 475.8,869.1 476.9,869.2 478.0,869.4 479.0,869.6 480.1,869.7 481.1,869.9 482.2,870.1 483.2,870.2 484.3,870.4 485.3,870.5 486.4,870.7 487.5,870.8 488.5,871.0 489.6,871.1 490.6,871.3 491.7,871.4 492.7,871.6 493.8,871.7 494.8,871.9 495.9,872.0 496.9,872.2 498.0,872.3 499.1,872.4 500.1,872.6 501.2,872.7 502.2,872.9 503.3,873.0 504.3,873.1 505.4,873.3 506.4,873.4 507.5,873.5 508.6,873.7 509.6,873.8 510.7,873.9 511.7,874.1 512.8,874.2 513.8,874.3 514.9,874.4 515.9,874.6 517.0,874.7 518.0,874.8 519.1,874.9 520.2,875.1 521.2,875.2 522.3,875.3 523.3,875.4 524.4,875.5 525.4,875.7 526.5,875.8 527.5,875.9 528.6,876.0 529.7,876.1 530.7,876.2 531.8,876.3 532.8,876.5 533.9,876.6 534.9,876.7 536.0,876.8 537.0,876.9 538.1,877.0 539.1,877.1 540.2,877.2 541.3,877.3 542.3,877.4 543.4,877.5 544.4,877.6 545.5,877.7 546.5,877.8 547.6,877.9 548.6,878.0 549.7,878.1 550.8,878.2 551.8,878.3 552.9,878.4 553.9,878.5 555.0,878.6 556.0,878.7 557.1,878.8 558.1,878.9 559.2,879.0 560.2,879.1 561.3,879.2 562.4,879.3 563.4,879.3 564.5,879.4 565.5,879.5 566.6,879.6 567.6,879.7 568.7,879.8 569.7,879.9 570.8,879.9 571.9,880.0 572.9,880.1 574.0,880.2 575.0,880.3 576.1,880.4 577.1,880.4 578.2,880.5 579.2,880.6 580.3,880.7 581.3,880.8 582.4,880.8 583.5,880.9 584.5,881.0 585.6,881.1 586.6,881.2 587.7,881.2 588.7,881.3 589.8,881.4 590.8,881.5 591.9,881.5 593.0,881.6 594.0,881.7 595.1,881.7 596.1,881.8 597.2,881.9 598.2,882.0 599.3,882.0 600.3,882.1 601.4,882.2 602.5,882.2 603.5,882.3 604.6,882.4 605.6,882.4 606.7,882.5 607.7,882.6 608.8,882.6 609.8,882.7 610.9,882.8 611.9,882.8 613.0,882.9 614.1,882.9 615.1,883.0 616.2,883.1 617.2,883.1 618.3,883.2 619.3,883.2 620.4,883.3 621.4,883.4 622.5,883.4 623.5,883.5 624.6,883.5 625.7,883.6 626.7,883.7 627.8,883.7 628.8,883.8 629.9,883.8 630.9,883.9 632.0,883.9 633.0,884.0 634.1,884.0 635.2,884.1 636.2,884.2 637.3,884.2 638.3,884.3 639.4,884.3 640.4,884.4 641.5,884.4 642.5,884.5 643.6,884.5 644.6,884.6 645.7,884.6 646.8,884.7 647.8,884.7 648.9,884.8 649.9,884.8 651.0,884.9 652.0,884.9 653.1,885.0 654.1,885.0 655.2,885.1 656.3,885.1 657.3,885.1 658.4,885.2 659.4,885.2 660.5,885.3 661.5,885.3 662.6,885.4 663.6,885.4 664.7,885.5 665.8,885.5 666.8,885.5 667.9,885.6 668.9,885.6 670.0,885.7 671.0,885.7 672.1,885.8 673.1,885.8 674.2,885.8 675.2,885.9 676.3,885.9 677.4,886.0 678.4,886.0 679.5,886.0 680.5,886.1 681.6,886.1 682.6,886.2 683.7,886.2 684.7,886.2 685.8,886.3 686.9,886.3 687.9,886.3 689.0,886.4 690.0,886.4 691.1,886.5 692.1,886.5 693.2,886.5 694.2,886.6 695.3,886.6 696.3,886.6 697.4,886.7 698.5,886.7 699.5,886.7 700.6,886.8 701.6,886.8 702.7,886.8 703.7,886.9 704.8,886.9 705.8,886.9 706.9,887.0 707.9,887.0 709.0,887.0 710.1,887.1 711.1,887.1 712.2,887.1 713.2,887.2 714.3,887.2 715.3,887.2 716.4,887.2 717.4,887.3 718.5,887.3 719.6,887.3 720.6,887.4 721.7,887.4 722.7,887.4 723.8,887.5 724.8,887.5 725.9,887.5 726.9,887.5 728.0,887.6 729.0,887.6 730.1,887.6 731.2,887.6 732.2,887.7 733.3,887.7 734.3,887.7 735.4,887.8 736.4,887.8 737.5,887.8 738.5,887.8 739.6,887.9 740.7,887.9 741.7,887.9 742.8,887.9 743.8,888.0 744.9,888.0 745.9,888.0 747.0,888.0 748.0,888.1 749.1,888.1 750.1,888.1 751.2,888.1 752.3,888.2 753.3,888.2 754.4,888.2 755.4,888.2 756.5,888.2 757.5,888.3 758.6,888.3 759.6,888.3 760.7,888.3 761.8,888.4 762.8,888.4 763.9,888.4 764.9,888.4 766.0,888.4 767.0,888.5 768.1,888.5 769.1,888.5 770.2,888.5 771.2,888.6" fill="none" stroke="#f63c6c" stroke-width="5.6"/>
<polyline points="139.3,887.5 141.2,885.6 143.1,884.5 145.4,883.5 147.8,883.0 150.1,882.3 152.4,880.8 154.7,880.3 157.0,881.1 159.3,879.1 161.6,877.9 163.6,878.5 165.7,877.3 167.7,877.3 169.8,876.2 171.8,875.9 173.9,874.7 176.2,873.8 178.5,872.6 180.8,870.2 183.1,868.6 185.4,868.9 187.7,868.4 190.0,872.5 192.3,869.1 194.6,869.5 196.9,869.9 199.2,871.5 201.5,871.4 203.6,871.2 205.6,870.9 207.7,870.1 210.8,872.7 213.1,870.4 215.4,869.4 217.2,869.7 218.9,871.2 220.7,871.9 222.5,870.3 224.3,869.8 226.1,869.4 228.4,868.6 230.7,865.9 233.8,863.1 235.7,860.7 237.6,859.1 239.6,859.3 241.5,859.6 243.4,861.5 245.3,863.0 247.2,861.6 249.2,859.4 251.5,859.3 253.8,858.8 257.0,860.5 259.1,858.7 261.2,856.7 263.1,857.0 265.0,856.5 266.9,855.7 268.8,854.5 270.6,854.1 272.5,852.7 274.4,853.0 276.3,852.6 278.1,852.2 280.0,851.9 281.9,852.7 283.7,852.6 285.6,851.0 287.5,851.1 289.4,849.6 291.2,849.7 293.1,850.3 295.0,849.4 296.9,848.1 298.8,845.4 300.6,844.9 302.5,842.8 304.4,842.5 306.3,842.9 308.1,844.6 310.0,845.7 312.4,846.4 314.7,848.5 317.0,845.6 319.4,843.4 321.3,844.1 323.1,843.3 325.0,843.6 327.0,843.9 329.0,844.2 331.2,841.2 333.4,838.8 335.3,840.2 337.1,839.7 339.0,840.9 340.6,841.3 342.3,841.1 344.0,841.7 345.6,842.2 347.5,842.1 349.4,841.7 351.2,841.3 353.1,840.5 355.0,840.0 356.9,836.6 358.8,833.7 360.6,833.4 362.5,832.1 364.4,831.6 366.3,833.5 368.1,833.8 370.0,834.8 371.9,834.3 373.7,835.2 375.6,835.7 377.5,834.9 379.4,835.8 381.2,835.8 383.1,834.7 385.0,835.2 386.9,834.7 388.8,834.0 390.6,832.6 392.5,832.2 394.4,832.2 396.2,831.2 398.1,831.3 399.8,832.4 401.4,833.0 403.1,832.2 404.7,832.7 406.5,831.0 408.4,828.7 411.2,826.1 413.1,826.5 415.0,827.0 416.9,827.8 418.8,827.8 421.6,826.1 423.5,827.6 425.3,827.4 428.1,829.1 431.0,835.0 432.9,836.3 434.7,838.0 436.5,840.3 438.4,840.9 440.3,840.3 442.2,840.2 444.5,841.5 446.9,841.6 448.8,841.5 450.6,841.0 452.5,843.6 454.4,844.9 456.2,846.4 458.1,846.4 460.0,845.7 461.9,845.2 464.7,841.8 467.0,841.2 469.4,840.9 471.7,839.8 474.0,839.4 476.4,838.0 478.8,837.9 480.6,838.6 482.5,838.3 484.4,839.1 486.2,840.8 488.1,841.4 490.0,842.9 491.9,843.5 493.8,844.5 495.6,845.0 497.5,846.0 499.4,845.6 501.3,846.6 503.1,847.7 505.0,848.6 506.9,849.2 508.7,850.6 510.6,850.1 513.0,849.0 515.3,849.4 517.6,844.6 520.0,840.1 521.9,837.9 523.8,837.2 525.6,837.8 527.5,837.4 529.4,838.7 531.3,838.9 533.1,838.6 535.0,838.4 536.9,837.8 538.7,837.6 540.6,837.1 543.0,837.8 545.3,839.5 547.6,838.6 550.0,838.8 551.9,838.1 553.7,839.6 555.6,839.7 557.4,839.7 559.2,839.3 561.0,839.0 563.0,839.1 564.9,839.0 566.9,840.6 568.8,839.2 570.6,838.8 572.5,838.6 574.4,838.8 576.2,838.9 578.1,840.0 580.0,838.9 581.9,837.9 583.8,837.2 585.6,836.6 587.5,834.7 589.9,833.2 592.2,830.8 594.5,831.0 596.9,831.9 598.8,831.9 600.6,830.5 602.5,831.1 604.4,830.9 606.2,830.4 608.6,830.5 611.0,829.3 612.9,834.4 614.7,838.9 617.0,835.4 619.4,833.4 621.7,831.1 624.0,829.0 626.9,826.1 629.2,826.2 631.6,826.6 633.9,828.4 636.2,831.3 638.1,832.6 640.0,833.8 641.9,835.0 643.8,837.4 645.6,838.4 647.5,838.4 649.4,836.9 651.2,834.6 653.1,832.5 655.5,833.5 657.8,834.9 660.1,833.4 662.5,831.7 665.3,826.8 668.1,831.7 670.5,829.9 672.8,829.1 675.1,830.3 677.5,830.8 679.4,831.6 681.2,833.0 683.1,834.5 685.0,835.8 686.9,837.0 688.8,837.3 690.8,839.0 692.8,839.9 694.5,841.7 696.2,843.7 698.3,844.2 700.4,844.9 702.1,844.8 703.9,845.6 706.0,847.0 708.0,846.3 710.1,846.4 712.9,842.1 715.7,842.6 718.4,845.9 720.1,845.3 721.9,845.4 724.0,846.4 726.1,846.5 728.2,847.1 730.2,846.7 732.0,846.7 733.7,847.6 735.5,848.4 737.2,850.6 738.9,851.6 740.6,853.1 743.4,854.0 745.1,853.1 746.9,852.5 748.6,850.9 750.3,848.9 752.0,849.3 753.8,848.1 755.9,846.9 758.0,846.4 759.7,844.3 761.4,843.3 763.5,843.3 765.6,844.4 767.5,842.8 769.5,842.5" fill="none" stroke="#44d0f6" stroke-width="1.9" stroke-linejoin="round"/>
<polyline points="139.3,837.6 141.6,830.3 144.7,822.4 147.8,815.2 150.0,811.7 152.4,813.2 154.7,809.9 157.7,808.2 160.0,803.4 162.4,794.9 165.4,792.6 167.0,786.1 169.3,778.9 172.3,774.8 174.6,771.7 177.7,768.0 180.8,766.0 183.9,767.4 186.2,762.7 189.2,758.1 191.5,761.1 194.6,763.5 196.9,764.8 199.2,764.1 201.5,766.6 203.4,767.8 205.4,767.8 208.4,765.5 210.8,759.4 213.1,761.5 215.4,763.3 218.4,756.9 220.7,752.4 223.0,751.4 225.4,748.2 227.7,743.2 229.6,742.0 231.5,742.1 233.4,741.3 235.3,741.3 237.2,739.4 239.0,737.0 242.0,732.9 245.0,728.1 246.7,726.6 248.3,724.9 250.0,723.7 251.9,721.4 253.7,717.4 255.6,714.4 257.5,714.2 259.4,712.8 261.2,712.2 264.0,712.2 265.9,710.1 267.8,709.1 269.7,708.5 271.6,709.3 273.9,705.7 276.2,703.0 279.0,700.7 280.9,701.2 282.8,702.2 284.7,704.9 286.6,708.5 288.5,709.9 290.3,709.7 292.1,708.7 294.0,708.0 296.9,714.4 299.7,717.1 302.5,720.2 304.4,719.4 306.2,718.3 308.1,716.8 310.0,714.4 311.9,712.5 313.8,710.0 316.1,707.7 318.4,705.0 320.3,705.3 322.2,704.0 324.1,701.6 326.0,699.7 327.9,697.5 329.7,695.2 332.5,700.6 335.3,703.9 338.1,702.3 340.0,703.5 341.9,705.2 343.8,707.9 345.6,709.8 347.5,709.7 349.4,710.0 351.7,708.2 354.0,706.8 355.9,702.6 357.8,698.5 360.1,697.5 362.5,695.1 364.4,694.6 366.2,693.8 368.1,689.4 370.0,683.0 372.4,680.8 374.7,678.8 377.0,678.6 379.4,678.5 381.2,679.9 383.1,679.8 385.0,683.0 386.9,686.9 388.8,687.9 390.6,690.4 392.5,692.4 394.4,696.3 396.2,696.5 398.1,695.8 400.0,696.0 402.4,693.4 404.7,691.2 407.5,694.3 410.3,702.2 412.1,701.3 414.0,699.6 415.9,700.0 417.8,699.5 420.6,704.7 422.5,702.2 424.4,700.7 427.2,695.9 429.1,690.2 431.0,684.6 433.3,684.1 435.6,681.7 438.4,679.7 440.3,681.4 442.2,681.3 444.1,680.1 446.0,677.4 448.8,675.3 451.6,677.7 453.5,674.2 455.3,670.3 458.1,669.0 461.0,669.4 463.8,678.0 465.6,679.4 467.5,680.0 469.4,680.9 471.2,681.0 474.0,677.7 476.9,681.7 478.8,679.1 480.6,677.0 482.5,678.0 484.4,679.6 486.2,677.3 488.1,674.4 490.0,673.9 491.9,672.5 493.8,669.9 495.6,669.7 497.5,671.5 499.4,668.3 501.2,664.7 503.1,664.5 505.0,662.0 507.8,659.4 510.6,657.1 513.4,659.1 515.3,662.5 517.2,666.4 520.0,673.8 522.8,680.6 525.6,678.1 527.5,676.7 529.4,675.9 531.2,677.6 533.1,676.8 535.0,677.6 536.9,676.1 538.8,676.5 540.6,676.0 542.5,674.7 544.4,672.9 546.3,673.0 548.1,671.8 550.0,672.1 551.9,671.0 553.7,671.2 555.6,670.4 557.5,669.0 559.4,668.2 561.2,666.5 563.1,664.6 565.0,663.5 566.9,662.0 568.8,661.1 571.1,660.3 573.4,659.2 575.8,661.4 578.1,663.8 581.0,664.4 583.8,659.9 585.6,663.4 587.5,665.8 589.4,667.1 591.2,670.1 593.1,669.8 595.0,670.4 596.9,671.1 598.8,672.4 600.6,673.7 602.5,675.4 604.4,676.5 606.2,678.9 608.1,681.0 610.0,682.7 612.8,676.6 614.7,673.2 616.6,670.5 618.5,671.3 620.3,671.3 623.1,675.2 625.0,677.1 626.9,680.0 628.8,679.8 630.6,678.3 633.0,675.1 635.3,670.5 637.6,670.5 640.0,668.5 641.9,668.1 643.8,668.1 645.6,667.4 647.5,667.3 649.4,671.5 651.2,675.0 653.1,675.9 655.0,678.1 656.9,679.0 658.8,679.4 661.1,680.5 663.4,680.9 666.2,678.8 669.0,674.3 671.9,675.2 674.7,677.3 677.0,675.1 679.4,672.6 681.2,666.4 683.1,663.7 685.0,660.8 687.4,659.4 689.7,659.3 692.5,654.1 695.5,650.4 698.3,647.4 701.1,647.5 703.9,645.4 706.0,642.4 708.7,642.8 711.5,643.8 714.3,644.0 717.0,640.6 718.4,639.6 720.2,637.2 722.0,635.4 723.6,634.9 725.2,635.2 726.8,633.7 728.4,634.2 730.0,632.8 731.7,633.0 733.3,632.6 735.0,632.8 736.7,632.0 738.3,632.3 740.0,632.9 741.7,631.8 743.3,632.3 745.0,631.8 746.8,632.2 748.5,632.3 750.2,632.8 752.0,634.6 754.0,637.2 755.9,639.8 758.7,644.0 761.4,644.9 763.1,642.8 764.9,642.3 767.0,640.8 769.5,641.5" fill="none" stroke="#b8e000" stroke-width="1.9" stroke-linejoin="round"/>
<polyline points="139.3,737.7 141.6,737.1 143.8,736.5 145.5,736.4 147.3,736.4 149.0,735.8 152.0,733.1 153.9,729.9 155.8,728.7 158.8,727.1 161.1,726.6 163.3,726.8 165.5,726.8 168.5,734.0 170.8,737.4 173.0,741.6 175.2,744.3 177.5,746.1 179.8,748.3 182.0,750.2 184.2,753.3 186.5,755.4 188.8,756.4 191.0,759.2 193.2,757.9 195.5,758.2 197.8,755.2 200.0,752.8 202.2,750.3 204.5,745.6 206.8,741.9 209.0,739.2 210.9,735.3 212.8,730.7 214.7,729.4 216.5,726.6 218.8,727.1 221.0,726.9 223.2,729.0 225.5,729.8 227.8,730.9 230.0,731.6 232.2,732.2 234.5,733.8 236.8,735.0 239.0,736.5 241.2,737.9 243.5,739.7 245.8,741.6 248.0,742.3 250.2,745.8 252.5,748.0 254.7,747.5 257.0,746.3 259.4,744.0 261.3,742.5 263.1,741.5 265.0,740.6 266.9,739.0 268.7,739.7 270.6,737.7 273.0,737.8 275.3,737.1 277.1,736.4 279.0,737.9 281.4,734.5 283.8,732.0 285.6,729.6 287.5,728.1 289.4,726.8 291.3,728.4 293.1,728.0 295.0,729.4 296.9,729.9 298.7,730.3 300.6,729.8 302.5,730.7 304.4,731.9 306.2,733.2 308.6,733.2 311.0,735.0 312.9,735.8 314.7,736.5 317.0,733.8 319.4,733.4 321.3,731.6 323.1,731.4 325.0,731.2 326.9,730.9 328.7,729.4 330.6,729.6 332.5,727.8 334.4,726.3 336.2,725.0 338.1,724.2 340.0,723.4 341.9,722.9 343.8,723.2 345.6,723.2 347.5,723.0 349.4,723.8 351.7,727.4 354.0,729.0 356.4,731.2 358.8,733.4 360.6,735.4 362.5,737.3 364.4,738.3 366.3,739.6 368.1,740.3 370.0,742.8 372.4,742.9 374.7,745.0 377.0,744.5 379.4,742.6 381.2,741.6 383.1,740.0 385.0,735.8 386.9,732.3 389.2,729.4 391.6,728.0 393.9,727.2 396.2,727.7 398.1,726.6 400.0,726.4 401.9,726.5 403.7,725.6 405.6,725.1 407.5,723.1 409.4,721.9 411.2,720.9 413.6,720.6 416.0,720.3 417.9,720.0 419.7,719.1 421.6,718.9 423.5,720.2 425.3,720.5 427.2,720.4 429.1,721.4 431.0,722.3 432.9,721.4 434.7,721.2 436.6,721.4 438.9,721.8 441.2,721.4 443.1,723.2 445.0,724.5 446.9,725.6 448.8,726.2 450.6,726.9 452.5,727.0 454.4,727.3 456.2,726.5 458.1,726.6 460.0,726.2 461.9,725.4 463.8,724.1 465.6,724.7 467.5,723.9 469.4,723.5 471.3,722.6 473.1,723.2 475.0,722.7 476.7,723.4 478.3,723.2 480.0,723.8 482.2,722.7 484.4,722.0 486.3,722.0 488.1,723.0 490.0,723.7 491.9,723.5 493.8,722.5 495.6,722.9 497.5,722.6 499.4,723.4 501.2,724.9 503.1,725.9 505.0,726.3 506.9,727.2 508.7,727.6 510.6,729.5 512.5,728.4 514.4,726.5 516.2,725.6 518.1,724.4 520.0,723.2 521.9,721.1 523.8,723.8 525.6,725.4 527.5,726.2 529.4,726.5 531.2,727.4 533.6,727.6 536.0,727.4 538.3,728.7 540.6,728.9 543.0,727.9 545.3,727.1 547.6,726.6 550.0,725.2 551.9,726.1 553.7,726.2 555.6,725.6 557.5,726.8 559.4,727.1 561.2,727.5 563.1,728.9 565.0,730.4 566.9,731.5 568.5,732.6 570.1,733.6 571.8,735.4 573.4,736.4 575.8,735.3 578.1,733.9 580.5,733.9 582.8,735.3 585.1,733.1 587.5,732.7 589.4,731.6 591.2,730.8 593.1,729.5 595.0,729.8 596.9,728.6 598.8,727.5 600.6,727.3 602.5,725.7 604.4,725.4 606.2,724.1 608.1,723.5 610.0,723.1 611.9,722.0 614.7,728.9 617.0,729.0 619.4,728.3 621.3,728.6 623.1,728.9 625.0,730.1 626.9,730.7 628.7,731.9 630.6,732.6 632.5,732.7 634.4,732.9 636.2,734.3 638.1,733.1 640.0,733.2 641.9,733.8 644.2,733.4 646.6,732.3 648.9,730.2 651.2,727.7 653.1,726.1 655.0,725.2 656.9,724.0 658.8,724.4 660.6,725.7 662.5,725.1 664.4,726.6 666.2,727.1 668.1,727.3 670.0,726.9 671.8,727.9 673.7,727.2 675.6,727.7 677.5,728.1 679.4,729.7 681.7,730.9 684.0,732.5 685.9,733.0 687.8,732.7 689.7,733.6 692.8,735.0 695.5,737.6 697.2,740.3 699.0,742.5 700.8,743.4 702.5,746.2 705.3,744.5 707.0,745.8 708.7,745.9 711.5,747.2 714.3,750.8 716.0,752.3 717.7,755.2 720.5,752.2 722.2,751.3 724.0,749.7 726.0,749.9 728.1,749.8 729.9,750.4 731.6,749.9 733.7,751.1 735.8,750.8 737.5,751.8 739.2,752.3 741.0,751.5 742.7,751.1 744.8,750.4 746.9,749.5 749.0,750.4 751.0,750.5 752.8,748.9 754.5,748.4 756.2,747.7 758.0,747.5 759.7,748.1 761.4,748.4 763.1,748.0 764.9,749.4 767.7,749.6 769.8,749.0" fill="none" stroke="#7236f6" stroke-width="1.9" stroke-linejoin="round"/>
<polyline points="140.0,635.0 142.3,642.9 145.3,658.0 147.2,662.0 149.0,666.2 151.2,671.1 153.5,677.2 156.5,683.0 158.8,690.9 161.0,699.3 163.3,705.2 166.3,706.0 168.5,713.4 170.8,716.3 173.8,714.4 175.7,716.5 177.5,718.6 180.5,715.6 183.5,716.9 185.4,717.6 187.3,717.2 190.3,719.4 192.5,714.1 194.8,712.8 197.0,713.6 200.0,716.9 201.9,720.2 203.8,722.4 206.8,724.9 209.0,733.4 210.8,739.6 214.0,746.2 217.0,748.7 220.0,753.6 223.0,757.1 226.0,760.6 229.2,764.8 231.2,765.9 233.3,768.3 235.3,769.8 237.4,768.7 239.4,768.4 241.5,768.0 244.6,771.1 247.6,773.7 249.6,771.6 251.5,771.3 252.8,772.9 255.6,781.0 257.9,785.6 260.3,789.1 262.6,794.9 265.0,799.0 266.9,801.3 268.8,804.9 270.6,806.3 272.5,808.0 274.4,810.3 276.3,812.0 278.1,814.3 280.0,817.4 281.9,818.4 283.7,818.7 285.6,821.0 287.5,820.4 289.4,821.4 291.7,820.7 294.0,818.9 296.4,816.4 298.8,814.4 300.6,814.2 302.5,813.5 304.4,814.5 306.2,812.9 308.1,813.6 310.0,814.2 311.9,813.9 313.8,816.6 315.6,817.4 317.5,820.8 319.4,823.0 321.7,825.5 324.0,828.5 325.9,831.7 327.8,836.1 330.1,837.9 332.5,839.4 334.4,839.7 336.2,840.3 338.1,840.2 340.0,838.2 341.9,837.5 343.8,835.3 345.6,834.6 347.5,834.1 349.4,832.3 351.7,831.2 354.0,830.5 356.9,836.7 358.8,838.0 360.6,839.4 362.5,841.2 364.4,842.5 366.2,842.1 368.1,843.0 370.0,845.2 371.9,846.4 373.8,847.5 375.6,849.3 377.5,850.9 379.4,852.0 381.3,853.3 383.1,854.1 385.0,855.7 386.9,855.7 388.7,856.8 390.6,857.9 392.5,855.4 394.4,852.3 396.3,853.3 398.1,853.5 400.0,854.3 401.9,856.2 403.8,858.5 405.6,860.2 407.5,860.7 409.4,858.9 411.2,858.0 413.1,858.4 415.0,859.3 416.9,860.0 418.7,858.8 420.6,859.3 423.0,859.3 425.3,860.6 428.1,867.1 430.0,866.0 431.9,866.2 433.8,867.2 435.6,866.4 437.5,865.8 439.4,866.0 441.3,866.4 443.1,866.3 445.0,866.6 446.9,866.3 448.7,867.0 450.6,867.0 452.5,867.7 454.4,867.6 456.2,867.0 458.1,867.2 460.0,866.0 461.9,865.1 463.8,864.9 465.6,864.2 467.5,864.3 469.4,864.6 471.2,865.5 473.1,865.4 475.0,867.1 476.9,866.6 478.8,867.9 480.6,868.9 482.5,869.4 484.4,870.0 486.3,869.7 488.1,870.4 490.0,870.9 491.9,870.4 493.8,871.9 495.6,872.2 497.5,871.9 499.4,872.7 501.2,872.7 503.1,872.8 505.0,873.4 506.9,872.5 508.7,873.5 510.6,873.8 512.5,872.8 514.4,873.7 516.2,872.5 518.1,873.6 520.0,872.8 521.9,873.8 523.8,873.0 525.6,873.7 527.5,872.4 529.4,873.0 531.2,874.5 533.1,874.7 535.0,875.0 536.9,874.8 538.8,875.5 540.6,876.2 542.5,876.3 544.4,877.8 546.2,877.7 548.1,878.2 550.0,878.1 551.9,877.8 553.8,877.7 555.6,878.8 557.5,878.2 559.4,879.3 561.2,879.6 563.1,880.1 565.0,880.0 566.9,879.5 568.8,879.7 570.6,878.6 572.5,878.8 574.4,878.0 576.2,878.0 578.1,877.5 580.0,877.9 581.9,878.1 583.8,878.4 585.6,878.8 587.5,879.8 589.4,880.3 591.2,879.6 593.1,879.2 595.0,879.4 596.9,879.3 598.8,879.8 600.6,880.1 602.5,879.8 604.4,879.3 606.2,879.5 608.1,879.5 610.0,879.6 611.9,879.8 613.8,880.8 615.6,880.4 617.5,880.8 619.4,880.4 621.2,879.9 623.1,879.6 625.0,878.6 626.9,878.7 628.8,878.9 630.6,877.6 632.5,878.0 634.4,877.5 636.2,876.9 638.1,876.7 640.0,877.6 641.9,876.8 643.8,877.8 645.6,877.1 647.5,877.6 649.4,877.0 651.2,877.6 653.1,877.8 655.0,876.9 656.9,876.2 658.8,875.6 661.1,874.3 663.4,874.1 664.4,880.9 666.3,881.4 668.1,880.8 670.0,881.8 671.9,881.3 673.8,881.5 675.6,883.0 677.5,881.9 679.4,884.0 681.2,884.8 683.1,884.9 685.0,885.2 686.9,885.3 688.8,885.0 690.0,886.1 691.8,885.6 693.5,886.4 695.2,886.1 697.0,885.9 699.0,884.3 701.1,884.0 703.2,882.6 705.3,882.4 707.0,882.5 708.8,882.9 710.5,882.7 712.2,882.8 714.0,882.7 715.9,881.5 717.7,881.9 719.8,881.2 721.9,881.8 723.6,881.8 725.4,883.3 728.1,879.7 730.2,882.6 733.0,884.5 734.8,884.1 736.7,885.0 738.5,884.2 740.1,884.5 741.8,884.6 743.4,884.9 746.2,881.3 747.9,882.2 749.6,880.8 752.4,882.8 755.2,881.1 757.6,880.5 760.0,880.6 761.8,880.4 763.5,881.7 766.3,881.8 767.9,883.2 769.5,884.1" fill="none" stroke="#ff0a0a" stroke-width="1.7" stroke-linejoin="round"/>
</g>
<rect x="700" y="578" width="69" height="61" fill="#fff"/>
<line x1="243.75" y1="72" x2="243.75" y2="90" stroke="#6c7c7c" stroke-width="1.3"/>
<line x1="243.75" y1="322" x2="243.75" y2="305" stroke="#6c7c7c" stroke-width="1.3"/>
<line x1="243.75" y1="324" x2="243.75" y2="342" stroke="#6c7c7c" stroke-width="1.3"/>
<line x1="243.75" y1="575" x2="243.75" y2="557" stroke="#6c7c7c" stroke-width="1.3"/>
<line x1="243.75" y1="577" x2="243.75" y2="595" stroke="#6c7c7c" stroke-width="1.3"/>
<line x1="243.75" y1="890" x2="243.75" y2="872" stroke="#6c7c7c" stroke-width="1.3"/>
<line x1="349.25" y1="72" x2="349.25" y2="90" stroke="#6c7c7c" stroke-width="1.3"/>
<line x1="349.25" y1="322" x2="349.25" y2="305" stroke="#6c7c7c" stroke-width="1.3"/>
<line x1="349.25" y1="324" x2="349.25" y2="342" stroke="#6c7c7c" stroke-width="1.3"/>
<line x1="349.25" y1="575" x2="349.25" y2="557" stroke="#6c7c7c" stroke-width="1.3"/>
<line x1="349.25" y1="577" x2="349.25" y2="595" stroke="#6c7c7c" stroke-width="1.3"/>
<line x1="349.25" y1="890" x2="349.25" y2="872" stroke="#6c7c7c" stroke-width="1.3"/>
<line x1="454.75" y1="72" x2="454.75" y2="90" stroke="#6c7c7c" stroke-width="1.3"/>
<line x1="454.75" y1="322" x2="454.75" y2="305" stroke="#6c7c7c" stroke-width="1.3"/>
<line x1="454.75" y1="324" x2="454.75" y2="342" stroke="#6c7c7c" stroke-width="1.3"/>
<line x1="454.75" y1="575" x2="454.75" y2="557" stroke="#6c7c7c" stroke-width="1.3"/>
<line x1="454.75" y1="577" x2="454.75" y2="595" stroke="#6c7c7c" stroke-width="1.3"/>
<line x1="454.75" y1="890" x2="454.75" y2="872" stroke="#6c7c7c" stroke-width="1.3"/>
<line x1="560.25" y1="72" x2="560.25" y2="90" stroke="#6c7c7c" stroke-width="1.3"/>
<line x1="560.25" y1="322" x2="560.25" y2="305" stroke="#6c7c7c" stroke-width="1.3"/>
<line x1="560.25" y1="324" x2="560.25" y2="342" stroke="#6c7c7c" stroke-width="1.3"/>
<line x1="560.25" y1="575" x2="560.25" y2="557" stroke="#6c7c7c" stroke-width="1.3"/>
<line x1="560.25" y1="577" x2="560.25" y2="595" stroke="#6c7c7c" stroke-width="1.3"/>
<line x1="560.25" y1="890" x2="560.25" y2="872" stroke="#6c7c7c" stroke-width="1.3"/>
<line x1="665.75" y1="72" x2="665.75" y2="90" stroke="#6c7c7c" stroke-width="1.3"/>
<line x1="665.75" y1="322" x2="665.75" y2="305" stroke="#6c7c7c" stroke-width="1.3"/>
<line x1="665.75" y1="324" x2="665.75" y2="342" stroke="#6c7c7c" stroke-width="1.3"/>
<line x1="665.75" y1="575" x2="665.75" y2="557" stroke="#6c7c7c" stroke-width="1.3"/>
<line x1="665.75" y1="577" x2="665.75" y2="595" stroke="#6c7c7c" stroke-width="1.3"/>
<line x1="665.75" y1="890" x2="665.75" y2="872" stroke="#6c7c7c" stroke-width="1.3"/>
<line x1="139" y1="121" x2="157" y2="121" stroke="#6c7c7c" stroke-width="1.3"/><line x1="770" y1="121" x2="752" y2="121" stroke="#6c7c7c" stroke-width="1.3"/>
<line x1="139" y1="222" x2="157" y2="222" stroke="#6c7c7c" stroke-width="1.3"/><line x1="770" y1="222" x2="752" y2="222" stroke="#6c7c7c" stroke-width="1.3"/>
<line x1="139" y1="681.5" x2="157" y2="681.5" stroke="#6c7c7c" stroke-width="1.3"/><line x1="770" y1="681.5" x2="752" y2="681.5" stroke="#6c7c7c" stroke-width="1.3"/>
<line x1="139" y1="786.4" x2="157" y2="786.4" stroke="#6c7c7c" stroke-width="1.3"/><line x1="770" y1="786.4" x2="752" y2="786.4" stroke="#6c7c7c" stroke-width="1.3"/>
<rect x="138.2" y="71" width="632.8" height="820.5" fill="none" stroke="#000" stroke-width="2"/>
<line x1="138" y1="323.2" x2="771" y2="323.2" stroke="#000" stroke-width="2"/>
<line x1="138" y1="576" x2="771" y2="576" stroke="#000" stroke-width="2"/>
<text x="163.54" y="41.50" font-size="44.50" textLength="22.28" lengthAdjust="spacingAndGlyphs" fill="#000" >0</text>
<text x="723.57" y="36.00" font-size="39.80" textLength="33.05" lengthAdjust="spacingAndGlyphs" fill="#000" class="k">m</text>
<text x="759.22" y="36.00" font-size="39.80" textLength="16.78" lengthAdjust="spacingAndGlyphs" fill="#000" class="k">a</text>
<text x="779.51" y="36.00" font-size="39.80" textLength="21.97" lengthAdjust="spacingAndGlyphs" fill="#000" class="k">x</text>
<text x="100.43" y="135.90" font-size="43.40" textLength="21.82" lengthAdjust="spacingAndGlyphs" fill="#000" >5</text>
<text x="100.28" y="236.80" font-size="43.20" textLength="22.40" lengthAdjust="spacingAndGlyphs" fill="#000" >4</text>
<text x="69.92" y="589.52" font-size="39.30" textLength="52.64" lengthAdjust="spacingAndGlyphs" fill="#000" >0.6</text>
<text x="69.94" y="694.87" font-size="39.30" textLength="52.06" lengthAdjust="spacingAndGlyphs" fill="#000" >0.4</text>
<text x="69.91" y="799.87" font-size="39.30" textLength="52.90" lengthAdjust="spacingAndGlyphs" fill="#000" >0.2</text>
<text x="69.93" y="904.87" font-size="39.30" textLength="52.45" lengthAdjust="spacingAndGlyphs" fill="#000" >0.0</text>
<text x="127.43" y="934.37" font-size="39.30" textLength="21.64" lengthAdjust="spacingAndGlyphs" fill="#000" >0</text>
<text x="223.14" y="934.37" font-size="39.30" textLength="41.18" lengthAdjust="spacingAndGlyphs" fill="#000" >50</text>
<text x="316.86" y="934.37" font-size="39.30" textLength="63.38" lengthAdjust="spacingAndGlyphs" fill="#000" >100</text>
<text x="422.36" y="934.37" font-size="39.30" textLength="63.38" lengthAdjust="spacingAndGlyphs" fill="#000" >150</text>
<text x="528.87" y="934.37" font-size="39.30" textLength="62.34" lengthAdjust="spacingAndGlyphs" fill="#000" >200</text>
<text x="634.37" y="934.37" font-size="39.30" textLength="62.34" lengthAdjust="spacingAndGlyphs" fill="#000" >250</text>
<text x="740.34" y="934.37" font-size="39.30" textLength="61.86" lengthAdjust="spacingAndGlyphs" fill="#000" >300</text>
<text x="367.10" y="998.10" font-size="45.20" textLength="174.74" lengthAdjust="spacingAndGlyphs" fill="#000" class="n">Time (fs)</text>
<text class="n" transform="rotate(-90)" x="-309.20" y="59.00" font-size="45.30" textLength="224.41" lengthAdjust="spacingAndGlyphs">Energy (eV)</text>
<text class="n" transform="rotate(-90)" x="-528.12" y="114.00" font-size="44.90" textLength="156.20" lengthAdjust="spacingAndGlyphs">Intensity</text>
<text class="n" transform="rotate(-90)" x="-832.42" y="30.75" font-size="44.90" textLength="197.13" lengthAdjust="spacingAndGlyphs">Population</text>
<text x="704.91" y="115.10" font-size="48.40" textLength="56.04" lengthAdjust="spacingAndGlyphs" fill="#000" >(a)</text>
<text x="703.65" y="367.80" font-size="48.40" textLength="56.09" lengthAdjust="spacingAndGlyphs" fill="#000" >(b)</text>
<text x="706.98" y="620.20" font-size="47.80" textLength="53.04" lengthAdjust="spacingAndGlyphs" fill="#000" >(c)</text>
<g fill="none" stroke="#000" stroke-linecap="round"><path d="M596.6,452.2 C598.4,449.2 600.6,447.5 604.2,447.3 L616.4,447.2" stroke-width="2.6"/><path d="M607.4,448.4 C606,453.5 604.5,458.8 603.2,464.2" stroke-width="2.9"/></g>
<g fill="none" stroke="#000" stroke-linecap="round" transform="translate(-341.5,189.3)"><path d="M596.6,452.2 C598.4,449.2 600.6,447.5 604.2,447.3 L616.4,447.2" stroke-width="2.6"/><path d="M607.4,448.4 C606,453.5 604.5,458.8 603.2,464.2" stroke-width="2.9"/></g>
<path d="M633.9,449.7H663.7M633.9,458.5H663.7" stroke="#000" stroke-width="1.45"/>
<path d="M292.7,639.0H322.4M292.7,647.8H322.4" stroke="#000" stroke-width="1.45"/>
<text x="678.36" y="465.58" font-size="44.30" textLength="41.97" lengthAdjust="spacingAndGlyphs" fill="#000" >85</text>
<text x="730.71" y="465.30" font-size="43.20" textLength="29.67" lengthAdjust="spacingAndGlyphs" fill="#000" >fs</text>
<text x="336.94" y="655.33" font-size="44.30" textLength="45.10" lengthAdjust="spacingAndGlyphs" fill="#000" >67</text>
<text x="389.46" y="654.60" font-size="43.20" textLength="29.72" lengthAdjust="spacingAndGlyphs" fill="#000" >fs</text>
<text x="158.61" y="658.90" font-size="40.80" textLength="29.69" lengthAdjust="spacingAndGlyphs" fill="#000" >Ω</text>
<text x="188.47" y="662.90" font-size="23.10" textLength="45.90" lengthAdjust="spacingAndGlyphs" fill="#000" >ring</text>
<text x="516.80" y="645.80" font-size="40.80" textLength="29.92" lengthAdjust="spacingAndGlyphs" fill="#000" >Ω</text>
<text x="546.60" y="650.60" font-size="27.10" textLength="55.26" lengthAdjust="spacingAndGlyphs" fill="#000" >NO2</text>
<text x="559.58" y="771.50" font-size="40.10" textLength="53.03" lengthAdjust="spacingAndGlyphs" fill="#000" >CT</text>
<text x="517.34" y="819.50" font-size="40.80" textLength="29.13" lengthAdjust="spacingAndGlyphs" fill="#000" >Ω</text>
<text x="547.38" y="823.70" font-size="27.10" textLength="57.87" lengthAdjust="spacingAndGlyphs" fill="#000" >CHO</text>
</svg></body></html>
